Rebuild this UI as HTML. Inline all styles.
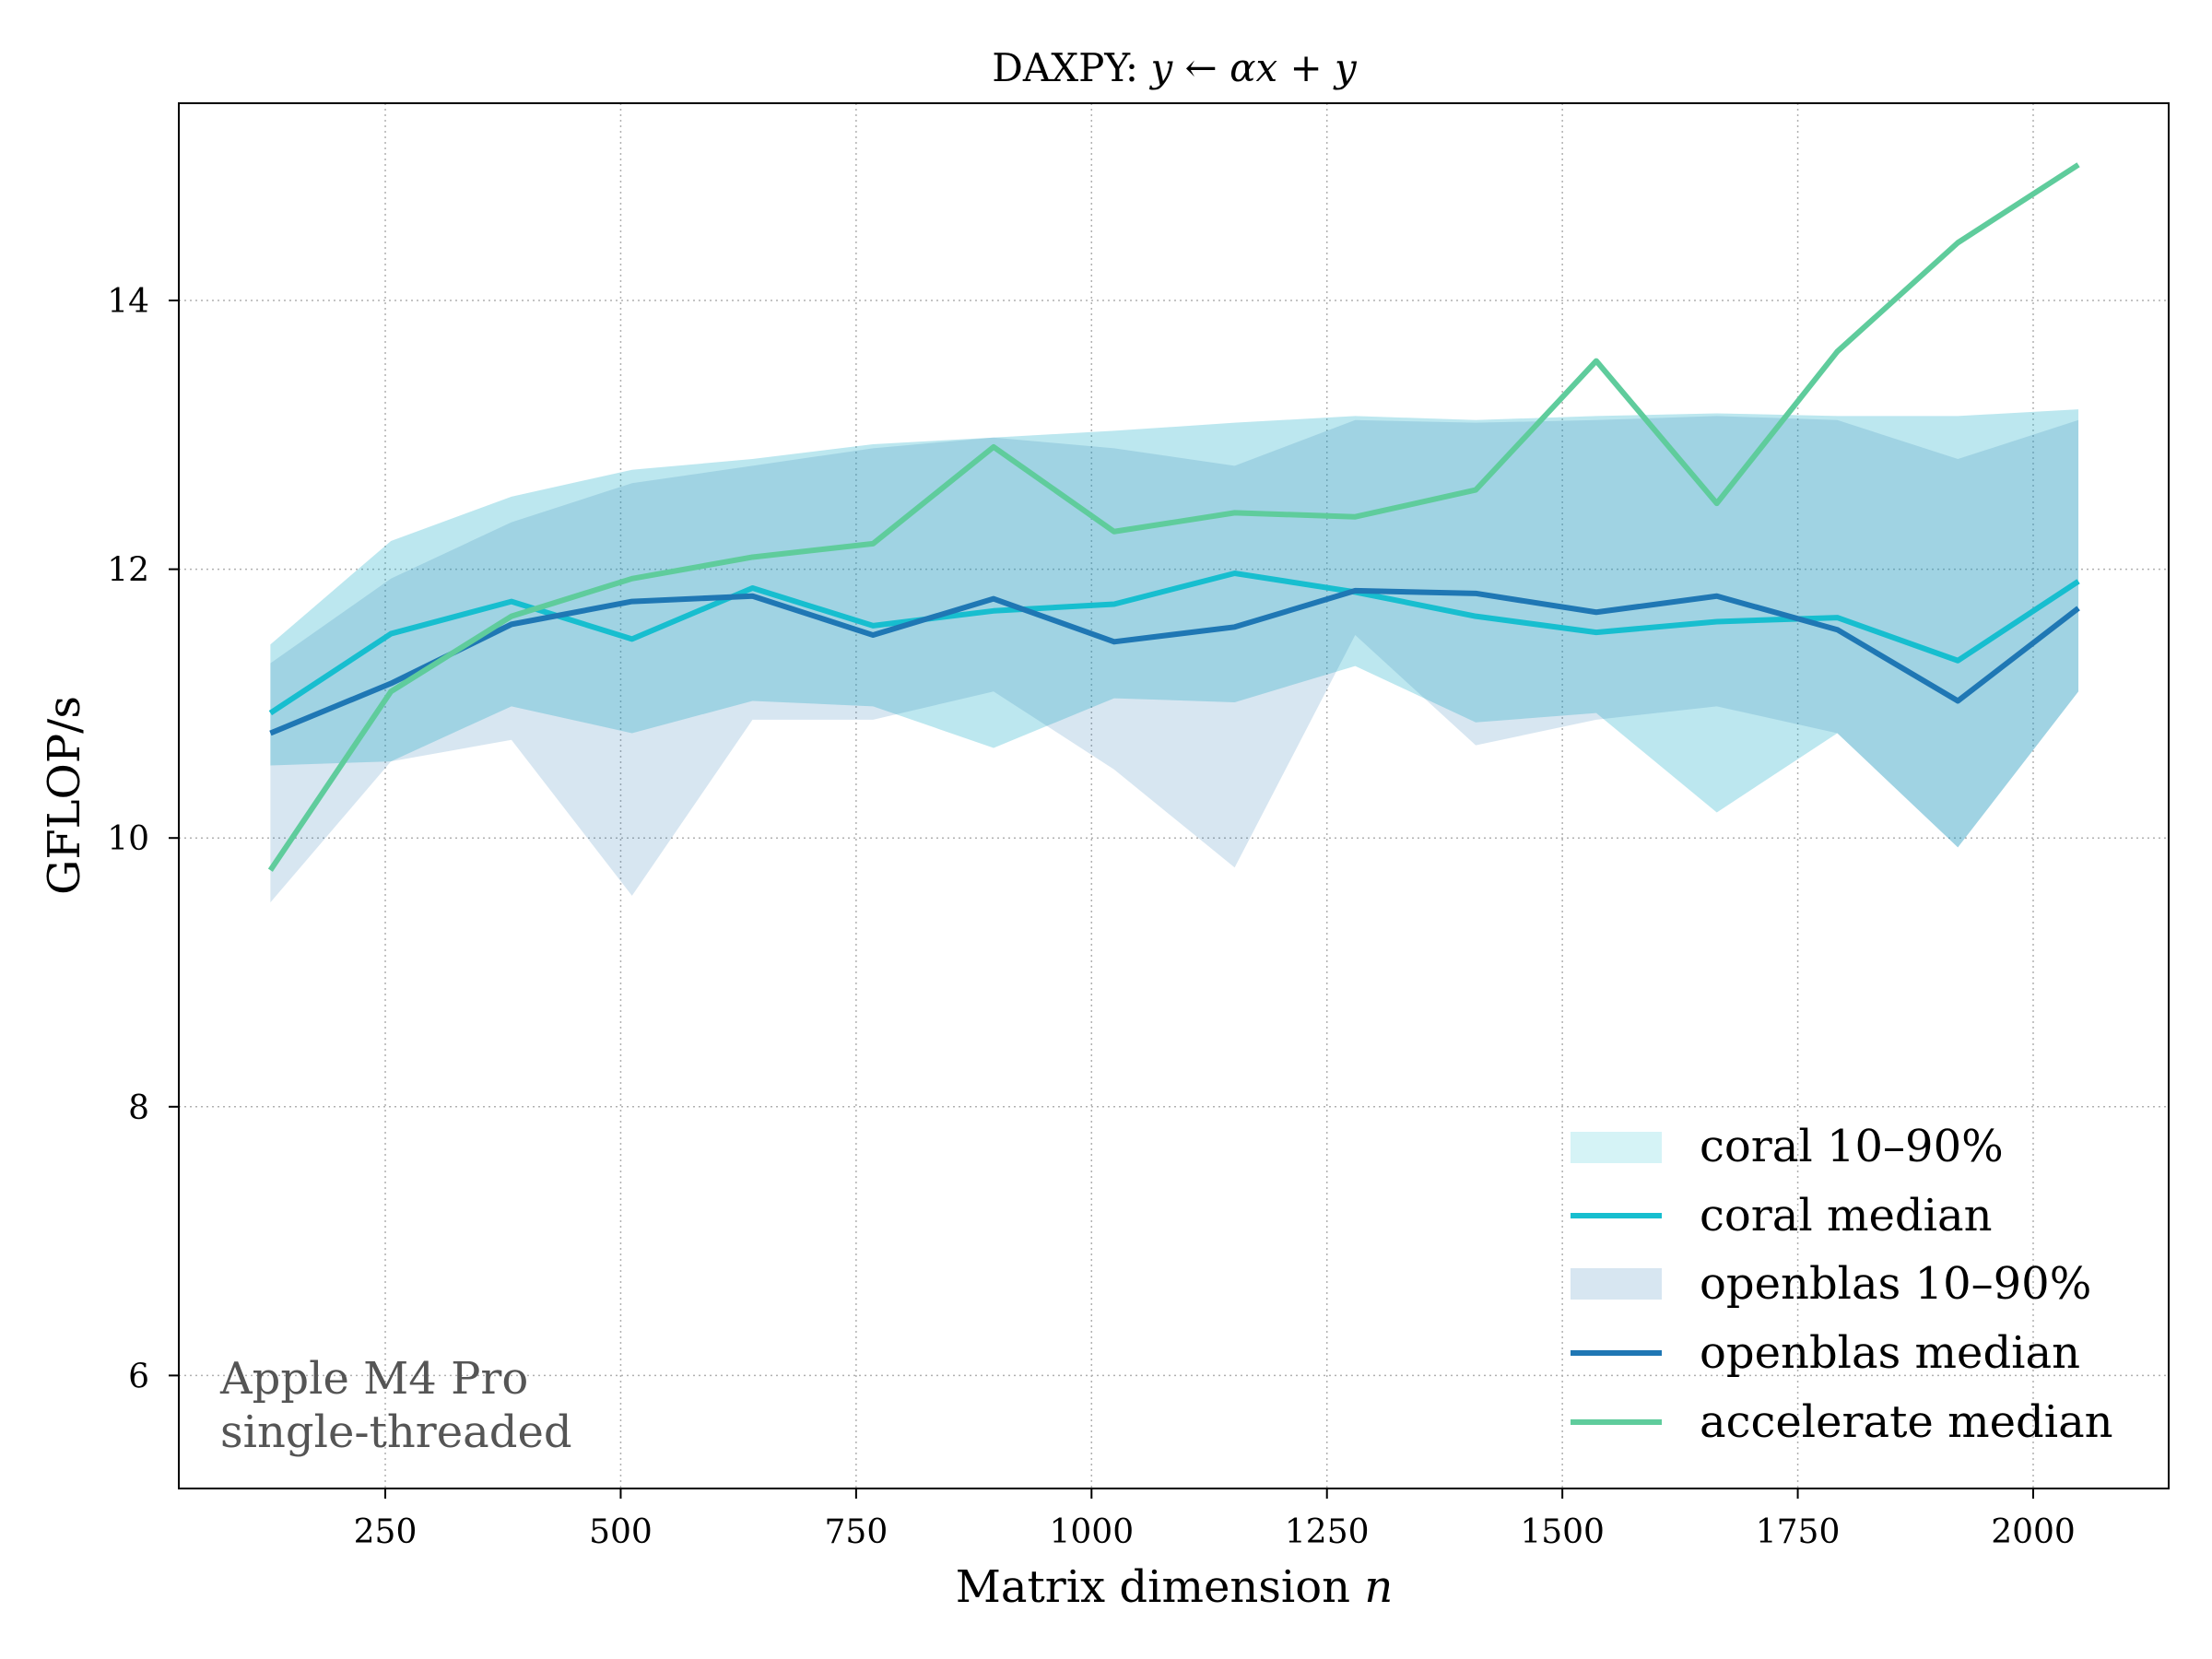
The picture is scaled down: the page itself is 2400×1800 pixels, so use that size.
<!DOCTYPE html>
<html><head><meta charset="utf-8"><style>
html,body{margin:0;padding:0;background:#fff;}
svg{display:block;font-family:"DejaVu Serif","Liberation Serif",serif;}
</style></head><body>
<svg id="chart" width="2400" height="1800" viewBox="0 0 2400 1800">
<rect width="2400" height="1800" fill="#fff"/>
<g id="grid"></g>
<g id="bands"></g>
<g id="lines"></g>
<rect x="194" y="112" width="2159" height="1503" fill="none" stroke="#000" stroke-width="2"/>
<g id="ticks"></g>
<text x="1274" y="88" font-size="42" text-anchor="middle">DAXPY: <tspan font-style="italic">y</tspan> ← <tspan font-style="italic">αx</tspan> + <tspan font-style="italic">y</tspan></text>
<text x="1274" y="1738" font-size="48" text-anchor="middle">Matrix dimension <tspan font-style="italic">n</tspan></text>
<text x="0" y="0" font-size="48" text-anchor="middle" transform="translate(86,863) rotate(-90)">GFLOP/s</text>
<text x="239" y="1512" font-size="48" fill="#555">Apple M4 Pro</text>
<text x="239" y="1570" font-size="48" fill="#555">single-threaded</text>
<g id="legend">
<rect x="1704" y="1228" width="99" height="34" fill="#17becf" fill-opacity="0.18"/>
<text x="1844" y="1260" font-size="48">coral 10–90%</text>
<line x1="1704" x2="1803" y1="1319" y2="1319" stroke="#17becf" stroke-width="6"/>
<text x="1844" y="1335" font-size="48">coral median</text>
<rect x="1704" y="1376" width="99" height="34" fill="#1f77b4" fill-opacity="0.18"/>
<text x="1844" y="1409" font-size="48">openblas 10–90%</text>
<line x1="1704" x2="1803" y1="1468" y2="1468" stroke="#1f77b4" stroke-width="6"/>
<text x="1844" y="1484" font-size="48">openblas median</text>
<line x1="1704" x2="1803" y1="1543" y2="1543" stroke="#5fcc9c" stroke-width="6"/>
<text x="1844" y="1559" font-size="48">accelerate median</text>
</g>
</svg>
<script>
const sizes = [128,256,384,512,640,768,896,1024,1152,1280,1408,1536,1664,1792,1920,2048];
const accelerateMedian = [9.76,11.09,11.65,11.93,12.09,12.19,12.91,12.28,12.42,12.39,12.59,13.55,12.49,13.62,14.43,15.01];
const coralMedian = [10.93,11.52,11.76,11.48,11.86,11.58,11.69,11.74,11.97,11.83,11.65,11.53,11.61,11.64,11.32,11.91];
const openblasMedian = [10.78,11.15,11.59,11.76,11.80,11.51,11.78,11.46,11.57,11.84,11.82,11.68,11.80,11.55,11.02,11.71];
const coralP90 = [11.44,12.21,12.54,12.74,12.82,12.93,12.98,13.03,13.09,13.14,13.11,13.14,13.16,13.14,13.14,13.19];
const coralP10 = [10.54,10.57,10.98,10.78,11.02,10.98,10.67,11.04,11.01,11.28,10.86,10.93,10.19,10.78,9.93,11.09];
const openblasP90 = [11.30,11.93,12.35,12.64,12.77,12.90,12.98,12.90,12.77,13.11,13.09,13.11,13.14,13.11,12.82,13.11];
const openblasP10 = [9.52,10.57,10.73,9.57,10.88,10.88,11.09,10.51,9.78,11.51,10.69,10.88,10.98,10.78,9.93,11.09];
const xTicks = [250,500,750,1000,1250,1500,1750,2000];
const yTicks = [6,8,10,12,14];

const NS='http://www.w3.org/2000/svg';
function xs(n){return 162.6 + n*1.0217;}
function ys(v){return 326 + (14-v)*145.8;}
function mk(tag,attrs,parent){const e=document.createElementNS(NS,tag);for(const k in attrs)e.setAttribute(k,attrs[k]);parent.appendChild(e);return e;}
const grid=document.getElementById('grid'), ticks=document.getElementById('ticks');
xTicks.forEach(t=>{
  const g=mk('line',{x1:xs(t),x2:xs(t),y1:112,y2:1615,stroke:'#b0b0b0','stroke-width':1.5,'stroke-dasharray':'2,4'},grid);
  
  
  const tk=mk('line',{x1:xs(t),x2:xs(t),y1:1615,y2:1626,stroke:'#000','stroke-width':2},ticks);
  
  
  const tx=mk('text',{x:xs(t),y:1674,'font-size':36,'text-anchor':'middle'},ticks);
  tx.textContent=t;
  
  
});
yTicks.forEach(t=>{
  const g=mk('line',{x1:194,x2:2353,y1:ys(t),y2:ys(t),stroke:'#b0b0b0','stroke-width':1.5,'stroke-dasharray':'2,4'},grid);
  
  
  const tk=mk('line',{x1:183,x2:194,y1:ys(t),y2:ys(t),stroke:'#000','stroke-width':2},ticks);
  
  
  const tx=mk('text',{x:162,y:ys(t)+13,'font-size':36,'text-anchor':'end'},ticks);
  tx.textContent=t;
  
  
});
function bandPath(hi,lo){
  let d='';
  sizes.forEach((n,i)=>{d+=(i?'L':'M')+xs(n)+','+ys(hi[i]);});
  for(let i=sizes.length-1;i>=0;i--) d+='L'+xs(sizes[i])+','+ys(lo[i]);
  return d+'Z';
}
function linePath(v){return sizes.map((n,i)=>(i?'L':'M')+xs(n)+','+ys(v[i])).join('');}
const bands=document.getElementById('bands'), lines=document.getElementById('lines');
const b1=mk('path',{d:bandPath(coralP90,coralP10),fill:'#17becf','fill-opacity':0.2},bands);


const b2=mk('path',{d:bandPath(openblasP90,openblasP10),fill:'#1f77b4','fill-opacity':0.18},bands);


const b3=mk('path',{d:bandPath(coralP90,coralP10),fill:'#2a9fc8','fill-opacity':0.12},bands);


const l1=mk('path',{d:linePath(coralMedian),fill:'none',stroke:'#17becf','stroke-width':6,'stroke-linejoin':'round'},lines);


const l2=mk('path',{d:linePath(openblasMedian),fill:'none',stroke:'#1f77b4','stroke-width':6,'stroke-linejoin':'round'},lines);


const l3=mk('path',{d:linePath(accelerateMedian),fill:'none',stroke:'#5fcc9c','stroke-width':6,'stroke-linejoin':'round'},lines);


</script>
</body></html>
